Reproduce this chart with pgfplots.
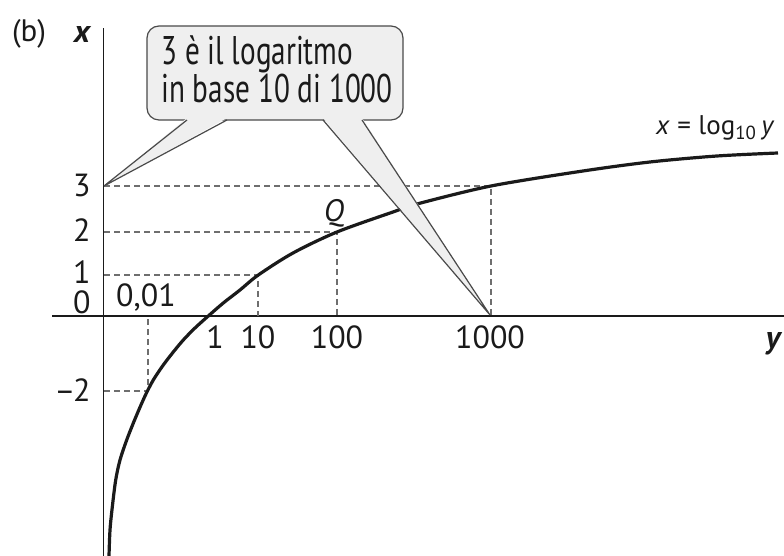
\documentclass[border=0pt]{standalone}
\usepackage{fontspec}
\setmainfont{PT Sans}
\newfontfamily\condfont{PT Sans}[FakeStretch=0.73]
\usepackage{pgfplots}
\pgfplotsset{compat=1.18}
\definecolor{ink}{HTML}{1A1A1A}
\definecolor{dashgray}{HTML}{6E6E6E}
\definecolor{callfill}{HTML}{EFEFEF}
\definecolor{callline}{HTML}{4A4A4A}

\begin{document}
\begin{tikzpicture}
\begin{axis}[
  name=ax, at={(0,0)}, anchor=south west,
  x=0.5pt, y=0.5pt,
  xmin=0, xmax=784, ymin=0, ymax=556,
  axis lines=none, clip=false,
]
% axes
\addplot[ink, line width=0.8pt] coordinates {(52,240)(784,240)};
\addplot[ink, line width=0.8pt] coordinates {(103.5,0)(103.5,528)};
% guide lines
\addplot[dashgray, line width=0.65pt, dash pattern=on 3pt off 2pt]
  coordinates {(104,370)(491,370)(491,240)};
\addplot[dashgray, line width=0.65pt, dash pattern=on 3pt off 2pt]
  coordinates {(104,324)(337,324)(337,240)};
\addplot[dashgray, line width=0.65pt, dash pattern=on 3pt off 2pt]
  coordinates {(104,281)(258,281)(258,240)};
\addplot[dashgray, line width=0.65pt, dash pattern=on 3pt off 2pt]
  coordinates {(104,165)(148,165)(148,240)};
% x = log10 y
\addplot[ink, line width=1.6pt, smooth] coordinates {
  (109,0)(110,26)(112.3,49)(115.7,76)(120,96)(126.7,116)(135,137)
  (145,160)(153.3,176)(163.3,191)(173.3,204)(183.3,216)(195,228)
  (208.3,240)(223.3,253)(240,266)(258.3,281)(293,303)(337,324)
  (393,344)(417,352)(491,370)(583,385)(650,394)(717,400)(778,403)};

% callout
\draw[fill=callfill, draw=callline, line width=0.6pt, rounded corners=6pt]
  (axis cs:147,436) rectangle (axis cs:403,530);
\fill[callfill] (axis cs:187,438) -- (axis cs:104,370) -- (axis cs:227,438) -- cycle;
\fill[callfill] (axis cs:323,438) -- (axis cs:490,241) -- (axis cs:362,438) -- cycle;
\draw[callline, line width=0.6pt] (axis cs:187,436) -- (axis cs:104,370) -- (axis cs:227,436);
\draw[callline, line width=0.6pt] (axis cs:323,436) -- (axis cs:490,241) -- (axis cs:362,436);
% base anchor of a multi-line node sits on the last line
\node[ink, anchor=base west, align=left, font=\condfont\fontsize{20}{18}\selectfont, inner sep=0pt]
  at (axis cs:161,453) {3 è il logaritmo\\in base 10 di 1000};

% tick labels
\tikzset{tl/.style={ink, font=\fontsize{16}{18}\selectfont, inner sep=0pt}}
\node[tl, anchor=east] at (axis cs:91,370) {3};
\node[tl, anchor=east] at (axis cs:91,326) {2};
\node[tl, anchor=east] at (axis cs:91,284) {1};
\node[tl, anchor=east] at (axis cs:91,254) {0};
\node[tl, anchor=east] at (axis cs:91,166) {–\kern-1.2pt2};
\node[tl] at (axis cs:146,258) {0,01};
\node[tl] at (axis cs:215,219) {1};
\node[tl] at (axis cs:258,219) {10};
\node[tl] at (axis cs:337,219) {100};
\node[tl] at (axis cs:490,219) {1000};

% other labels
\node[ink, font=\fontsize{15.5}{17}\selectfont, inner sep=0pt] at (axis cs:29,522) {(b)};
\node[ink, font=\fontsize{16}{17}\selectfont\bfseries\itshape, inner sep=0pt] at (axis cs:82,521) {x};
\node[ink, font=\fontsize{16}{17}\selectfont\bfseries\itshape, inner sep=0pt] at (axis cs:773,212) {y};
\node[ink, font=\fontsize{15.5}{17}\selectfont\itshape, inner sep=0pt] at (axis cs:334,343) {Q};
\node[ink, font=\fontsize{13.5}{15}\selectfont, inner sep=0pt, anchor=base east]
  at (axis cs:775,421) {\textit{x}\;=\;log\textsubscript{10}\,\textit{y}};
\end{axis}
\pgfresetboundingbox
\path (ax.south west) rectangle (ax.north east);
\end{tikzpicture}
\end{document}
